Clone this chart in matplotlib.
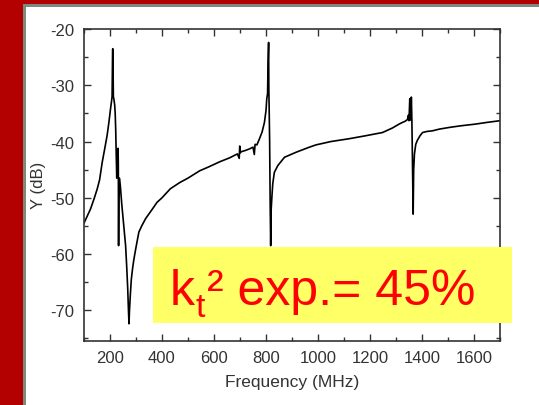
import matplotlib.pyplot as plt
from matplotlib.patches import Rectangle
from matplotlib.ticker import MultipleLocator

# Admittance spectrum: frequency (MHz) and Y (dB).
freq = [100, 105, 112, 125, 140, 151, 160, 170, 180, 189, 196, 202, 206, 208,
        209, 210, 211, 212, 213, 215, 218, 220, 222, 224, 226, 227, 229, 231,
        232, 233, 234, 236, 240, 245, 250, 255, 260, 264, 268, 271, 273, 275,
        278, 282, 287, 292, 300, 311, 322, 337, 360, 381, 400, 432, 468, 500,
        545, 580, 622, 660, 690, 697, 699, 701, 705, 720, 737, 750, 755, 758,
        765, 775, 785, 794, 800, 803, 806, 808, 810, 811, 812, 814, 816, 818,
        820, 823, 826, 832, 845, 871, 916, 967, 992, 1050, 1120, 1180, 1248,
        1286, 1312, 1325, 1335, 1344, 1348, 1350, 1353, 1355, 1357, 1359, 1361,
        1363, 1366, 1368, 1371, 1376, 1382, 1392, 1402, 1420, 1440, 1466, 1504,
        1550, 1606, 1650, 1700]
y_db = [-54.5, -54.0, -53.3, -52.0, -50.0, -48.4, -46.8, -43.7, -41.2, -38.9,
        -36.5, -34.2, -32.8, -32.0, -28.0, -23.6, -23.5, -28.0, -32.0, -32.5,
        -33.5, -35.0, -38.0, -42.5, -46.5, -44.0, -41.5, -41.2, -44.0, -58.5,
        -50.0, -46.5, -48.0, -51.0, -53.5, -56.0, -58.5, -62.0, -66.0, -70.0,
        -72.4, -70.0, -67.4, -64.5, -62.5, -60.9, -58.8, -56.1, -55.0, -53.7,
        -52.2, -50.8, -50.0, -48.4, -47.3, -46.5, -45.2, -44.5, -43.6, -42.9,
        -42.2, -43.0, -40.8, -42.0, -41.8, -41.6, -41.3, -41.0, -42.3, -40.5,
        -40.6, -39.5, -38.3, -36.6, -34.5, -32.4, -31.5, -26.0, -22.4, -31.0,
        -33.6, -40.0, -50.8, -58.5, -52.0, -49.6, -47.5, -45.5, -44.3, -42.8,
        -41.9, -41.0, -40.6, -40.0, -39.5, -39.0, -38.4, -37.6, -36.9, -36.6,
        -36.4, -36.1, -35.3, -36.3, -32.4, -35.0, -36.2, -32.1, -36.0, -42.5,
        -52.9, -45.0, -42.2, -40.5, -39.8, -39.0, -38.4, -38.2, -38.1, -37.8,
        -37.5, -37.2, -36.9, -36.6, -36.3]

x_ticks = [200, 400, 600, 800, 1000, 1200, 1400, 1600]
y_ticks = [-70, -60, -50, -40, -30, -20]

plt.rcParams['font.family'] = ['Liberation Sans', 'DejaVu Sans']
plt.rcParams['axes.unicode_minus'] = False

fig = plt.figure(figsize=(5.39, 4.06), dpi=100, facecolor='#b30000')
W, H = 539, 406

# slide frame: grey rim and white panel, kept behind the axes
fig.patches.append(Rectangle((22.5 / W, 0), 1, 1 - 4.5 / H, transform=fig.transFigure,
                             facecolor='#7d8a7e', edgecolor='none', zorder=-3))
fig.patches.append(Rectangle((26 / W, 0), 1, 1 - 8 / H, transform=fig.transFigure,
                             facecolor='white', edgecolor='none', zorder=-2))

ax = fig.add_axes([84 / W, 1 - 341.7 / H, (500 - 84) / W, (341.7 - 30) / H])
ax.set_facecolor('none')
ax.plot(freq, y_db, color='black', lw=1.2)

ax.set_xlim(100, 1700)
ax.set_ylim(-75.4, -20)
ax.set_xticks(x_ticks)
ax.set_yticks(y_ticks)
ax.xaxis.set_minor_locator(MultipleLocator(100))
ax.yaxis.set_minor_locator(MultipleLocator(5))
ax.tick_params(which='both', direction='in', top=True, right=True,
               colors='#333333', labelsize=12)
ax.tick_params(which='major', length=5, width=1, pad=7)
ax.tick_params(which='minor', length=3, width=1)
for s in ax.spines.values():
    s.set_color('#333333')
    s.set_linewidth(1.2)

ax.set_xlabel("Frequency (MHz)", fontsize=12.5, color='#333333', labelpad=6)
ax.set_ylabel("Y (dB)", fontsize=12, color='#333333', labelpad=3)

# yellow note box on top of the plot
fig.patches.append(Rectangle((153 / W, 1 - 324 / H), (512 - 153) / W, 76 / H,
                             transform=fig.transFigure, facecolor='#ffff66',
                             edgecolor='none', zorder=5))
fs = 36
x0, base = 170 / W, 1 - 305 / H
t = fig.text(x0, base, "k", color='#ff0000', fontsize=fs, zorder=6)
fig.canvas.draw()
bb = t.get_window_extent()
xs = bb.x1 / W
fig.text(xs, base - 12 / H, "t", color='#ff0000', fontsize=fs * 0.68, zorder=6)
fig.text(xs + 12 / W, base, "² exp.= 45%", color='#ff0000', fontsize=fs, zorder=6)

fig.savefig('out.png', dpi=100, facecolor=fig.get_facecolor())
